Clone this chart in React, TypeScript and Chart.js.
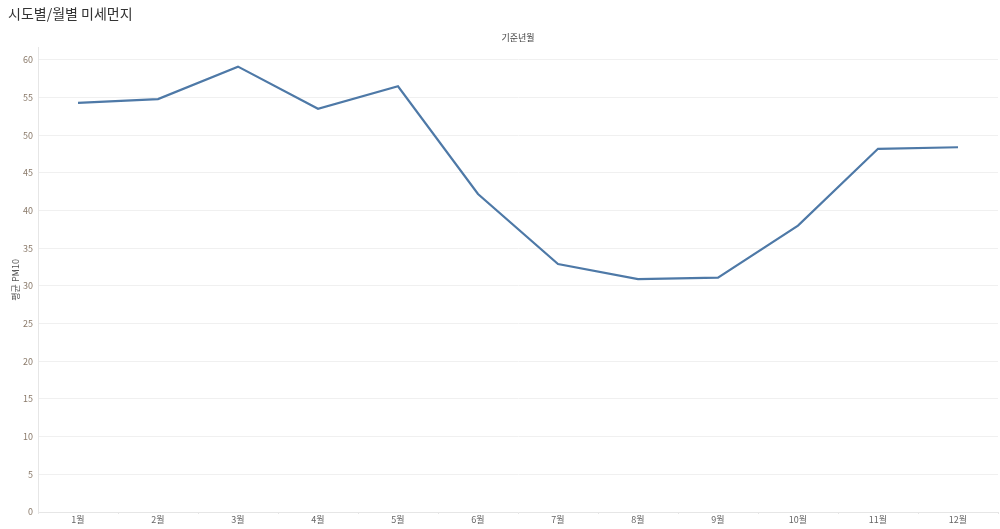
import React, { useEffect, useRef } from "react";
import { Chart, registerables } from "chart.js";

Chart.register(...registerables);

const months = ["1월", "2월", "3월", "4월", "5월", "6월", "7월", "8월", "9월", "10월", "11월", "12월"];
const pm10 = [54.3, 54.8, 59.1, 53.5, 56.5, 42.2, 32.9, 30.9, 31.1, 38.0, 48.2, 48.4];
const chartTitle = "시도별/월별 미세먼지";
const xTitle = "기준년월";
const yTitle = "평균 PM10";

const FONT = "'Noto Sans CJK KR', 'Noto Sans', sans-serif";

export default function App() {
  const ref = useRef<HTMLCanvasElement | null>(null);
  useEffect(() => {
    document.body.style.margin = "0";
    const chart = new Chart(ref.current!, {
      type: "line",
      data: {
        labels: months,
        datasets: [
          {
            label: yTitle,
            data: pm10,
            borderColor: "#4e79a7",
            backgroundColor: "#4e79a7",
            borderWidth: 2.2,
            pointRadius: 0,
            tension: 0,
          },
        ],
      },
      options: {
        animation: false,
        responsive: false,
        layout: { padding: { left: 8, right: 2, top: 0, bottom: 0 } },
        plugins: {
          legend: { display: false },
          tooltip: { enabled: false },
          title: {
            display: true,
            text: chartTitle,
            align: "start",
            color: "#333",
            font: { family: FONT, size: 14, weight: "normal" },
            padding: { top: 5, bottom: 0 },
          },
        },
        scales: {
          x: {
            offset: true,
            grid: { display: true, drawOnChartArea: false, drawTicks: true, tickLength: 2, color: "#e6e6e6", offset: true },
            border: { color: "#e6e6e6" },
            ticks: { color: "#666", font: { family: FONT, size: 9 }, padding: 0, maxRotation: 0 },
            afterFit: (s: any) => { s.height = 17; },
          },
          x2: {
            position: "top",
            labels: months,
            offset: true,
            grid: { display: false },
            border: { display: false },
            ticks: { display: false },
            title: { display: true, text: xTitle, color: "#444", font: { family: FONT, size: 9 }, padding: { top: 10, bottom: 0 } },
            afterFit: (s: any) => { s.height = 26; },
          },
          y: {
            min: 0,
            max: 61.6,
            grid: { color: "#f0f0f0", drawTicks: false },
            border: { color: "#e6e6e6" },
            ticks: { stepSize: 5, color: "#8a7a6a", font: { family: FONT, size: 9 }, padding: 5 },
            afterBuildTicks: (s: any) => { s.ticks = s.ticks.filter((t: any) => t.value % 5 === 0); },
            title: { display: true, text: yTitle, color: "#555", font: { family: FONT, size: 9 }, padding: { top: 2, bottom: 0 } },
            afterFit: (s: any) => { s.width = 30; },
          },
        },
      },
    } as any);
    return () => chart.destroy();
  }, []);
  return (
    <div style={{ position: "absolute", left: 0, top: 0, width: 1000, height: 529 }}>
      <canvas ref={ref} width={1000} height={529} />
    </div>
  );
}
